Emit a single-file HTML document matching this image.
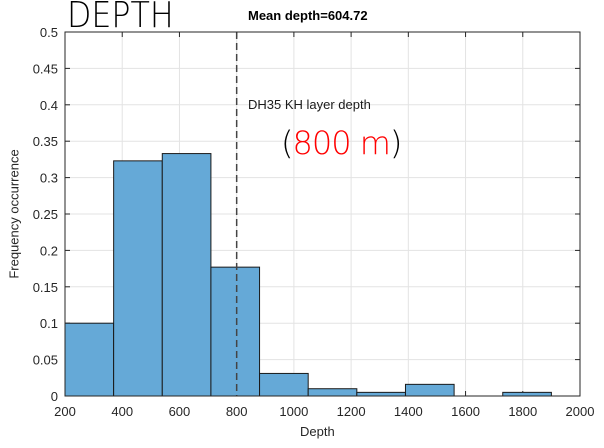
<!DOCTYPE html>
<html><head><meta charset="utf-8"><style>
body{margin:0;background:#fff;}
svg{display:block;font-family:"Liberation Sans",sans-serif;}
</style></head><body>
<svg id="c" width="604" height="448"></svg>
<script>
const binEdges=[200,370,540,710,880,1050,1220,1390,1560,1730,1900];
const freqs=[0.1,0.323,0.333,0.177,0.031,0.010,0.005,0.016,0,0.005];
const xTicks=[200,400,600,800,1000,1200,1400,1600,1800,2000];
const yTicks=[0,0.05,0.1,0.15,0.2,0.25,0.3,0.35,0.4,0.45,0.5];
const meanLine=800;
const L=65,R=580,T=32,B=396;
const sx=v=>L+(v-200)/1800*(R-L);
const sy=v=>B-v/0.5*(B-T);
const svg=document.getElementById('c');
const NS='http://www.w3.org/2000/svg';
function mk(t,a,p){const e=document.createElementNS(NS,t);for(const k in a)e.setAttribute(k,a[k]);(p||svg).appendChild(e);return e;}
mk('rect',{x:L,y:T,width:R-L,height:B-T,fill:'#fff'});
xTicks.forEach(v=>{
 const g=mk('line',{x1:sx(v),x2:sx(v),y1:T,y2:B,stroke:'#e3e3e3'});
 
 
 const t=mk('text',{x:sx(v),y:B+20,'text-anchor':'middle','font-size':13,fill:'#262626'});t.textContent=v;
 
 
 mk('line',{x1:sx(v),x2:sx(v),y1:B,y2:B-5,stroke:'#262626'});
 mk('line',{x1:sx(v),x2:sx(v),y1:T,y2:T+5,stroke:'#262626'});
});
yTicks.forEach(v=>{
 const g=mk('line',{x1:L,x2:R,y1:sy(v),y2:sy(v),stroke:'#e3e3e3'});
 
 
 const t=mk('text',{x:L-7,y:sy(v)+5,'text-anchor':'end','font-size':13,fill:'#262626'});t.textContent=v;
 
 
 mk('line',{x1:L,x2:L+5,y1:sy(v),y2:sy(v),stroke:'#262626'});
 mk('line',{x1:R,x2:R-5,y1:sy(v),y2:sy(v),stroke:'#262626'});
});
freqs.forEach((f,i)=>{
 const b=mk('rect',{x:sx(binEdges[i]),y:sy(f),width:sx(binEdges[i+1])-sx(binEdges[i]),height:B-sy(f),fill:'#65a9d7',stroke:'#1a1a1a','stroke-width':1});
 
 
});
const ml=mk('line',{x1:sx(meanLine),x2:sx(meanLine),y1:T,y2:B,stroke:'#444','stroke-width':1.5,'stroke-dasharray':'7,4'});


const ax=mk('rect',{x:L,y:T,width:R-L,height:B-T,fill:'none',stroke:'#262626'});


</script>
<div style="position:absolute;left:67px;top:-5px;font:36px 'DejaVu Sans',sans-serif;font-weight:200;transform:scaleX(0.88);transform-origin:left;">DEPTH</div>
<div style="position:absolute;left:248px;top:8px;font:bold 13px 'Liberation Sans',sans-serif;">Mean depth=604.72</div>
<div style="position:absolute;left:248px;top:97px;font:13px 'Liberation Sans',sans-serif;color:#1a1a1a;">DH35 KH layer depth</div>
<div style="position:absolute;left:281px;top:124px;font:32px 'DejaVu Sans',sans-serif;font-weight:300;letter-spacing:-1px;">(<span style="color:#f00">800 m</span>)</div>
<div style="position:absolute;left:14px;top:214px;font:13px 'Liberation Sans',sans-serif;color:#262626;transform:translate(-50%,-50%) rotate(-90deg);white-space:nowrap;">Frequency occurrence</div>
<div style="position:absolute;left:300px;top:424px;font:13px 'Liberation Sans',sans-serif;color:#262626;">Depth</div>
</body></html>
